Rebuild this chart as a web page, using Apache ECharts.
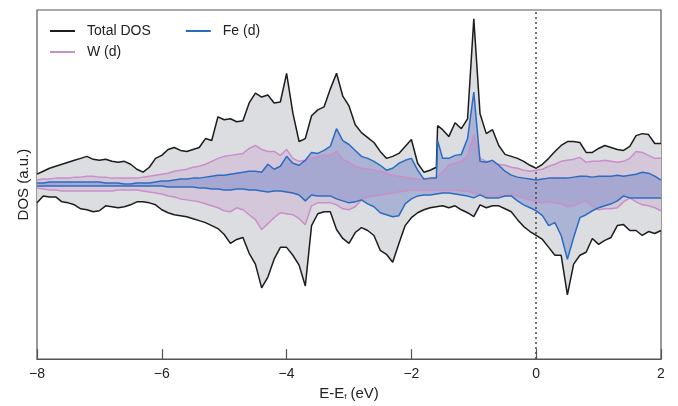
<!DOCTYPE html>
<html>
<head>
<meta charset="utf-8">
<title>DOS</title>
<script src="https://cdn.jsdelivr.net/npm/echarts@6/dist/echarts.min.js"></script>
<style>
  html, body { margin: 0; padding: 0; background: #fff; }
  #dosChart { width: 678px; height: 406px; }
</style>
</head>
<body>
<div id="dosChart"></div>
<script>
// energy grid (eV), one extra point at the -1.6 eV step
const energy = [
  -8.0, -7.9, -7.8, -7.7, -7.6, -7.5, -7.4, -7.3, -7.2, -7.1,
  -7.0, -6.9, -6.8, -6.7, -6.6, -6.5, -6.4, -6.3, -6.2, -6.1,
  -6.0, -5.9, -5.8, -5.7, -5.6, -5.5, -5.4, -5.3, -5.2, -5.1,
  -5.0, -4.9, -4.8, -4.7, -4.6, -4.5, -4.4, -4.3, -4.2, -4.1,
  -4.0, -3.9, -3.8, -3.7, -3.6, -3.5, -3.4, -3.3, -3.2, -3.1,
  -3.0, -2.9, -2.8, -2.7, -2.6, -2.5, -2.4, -2.3, -2.2, -2.1,
  -2.0, -1.9, -1.8, -1.7, -1.6, -1.58, -1.5, -1.4, -1.3, -1.2, -1.1,
  -1.0, -0.9, -0.8, -0.7, -0.6, -0.5, -0.4, -0.3, -0.2, -0.1,
  0.0, 0.1, 0.2, 0.3, 0.4, 0.5, 0.6, 0.7, 0.8, 0.9,
  1.0, 1.1, 1.2, 1.3, 1.4, 1.5, 1.6, 1.7, 1.8, 1.9, 2.0
]
// spin up (positive) / spin down (negative), arbitrary units
const totalUp = [
  10, 13, 16, 18, 20, 22, 24, 26, 28, 25,
  24, 25, 23, 22, 23, 20, 15, 12, 17, 26,
  29, 35, 37, 34, 33, 35, 37, 46, 44, 68,
  65, 66, 63, 64, 82, 92, 88, 90, 82, 83,
  112, 72, 43, 46, 69, 75, 78, 96, 112, 89,
  79, 60, 52, 47, 42, 33, 26, 28, 31, 38,
  45, 21, 12, 14, 17, 59, 55, 48, 62, 56, 66,
  167, 71, 51, 55, 39, 30, 28, 26, 23, 19,
  16, 20, 26, 33, 39, 43, 43, 42, 32, 32,
  36, 39, 37, 35, 34, 38, 49, 51, 50, 41, 41
]
const totalDown = [
  -19, -12, -13, -13, -18, -19, -21, -25, -26, -28,
  -27, -22, -23, -24, -23, -21, -18, -18, -19, -21,
  -26, -29, -31, -32, -33, -35, -37, -39, -42, -45,
  -51, -60, -56, -54, -70, -81, -105, -94, -76, -64,
  -64, -72, -82, -103, -42, -30, -28, -28, -46, -55,
  -60, -49, -44, -47, -52, -67, -71, -79, -60, -42,
  -34, -29, -26, -24, -23, -23, -22, -24, -22, -26, -29,
  -33, -21, -24, -22, -22, -25, -28, -36, -43, -48,
  -52, -56, -64, -72, -72, -112, -81, -72, -69, -55,
  -61, -57, -54, -42, -41, -47, -47, -52, -48, -50, -47
]
const wUp = [
  4, 5, 5, 6, 6, 6, 7, 7, 8, 8,
  7, 7, 6, 6, 6, 6, 6, 7, 8, 9,
  10, 11, 13, 14, 15, 17, 18, 20, 23, 26,
  28, 29, 30, 31, 36, 39, 35, 33, 33, 29,
  35, 26, 23, 24, 26, 28, 29, 29, 33, 25,
  22, 18, 16, 15, 14, 13, 11, 9, 8, 7,
  6, 5, 4, 5, 7, 9, 12, 19, 21, 23, 28,
  50, 26, 23, 21, 20, 19, 17, 16, 14, 13,
  14, 15, 18, 20, 23, 24, 25, 27, 22, 23,
  23, 24, 23, 22, 23, 26, 33, 32, 29, 26, 26
]
const wDown = [
  -4, -5, -6, -6, -7, -7, -7, -7, -7, -7,
  -7, -7, -7, -6, -6, -6, -6, -7, -8, -9,
  -10, -12, -13, -15, -16, -17, -18, -20, -22, -24,
  -27, -28, -24, -26, -31, -36, -46, -40, -34, -29,
  -30, -31, -35, -41, -22, -19, -19, -19, -21, -25,
  -26, -23, -16, -13, -12, -11, -10, -9, -8, -7,
  -6, -6, -6, -6, -6, -6, -6, -6, -6, -7, -7,
  -9, -11, -12, -12, -12, -12, -11, -12, -14, -16,
  -18, -19, -18, -19, -20, -23, -22, -19, -17, -22,
  -26, -25, -25, -24, -18, -14, -18, -21, -22, -24, -27
]
const feUp = [
  1, 1, 2, 2, 2, 2, 2, 2, 2, 2,
  2, 1, 1, 1, 0, 0, 1, 1, 1, 2,
  3, 3, 4, 5, 5, 6, 6, 7, 8, 9,
  9, 10, 11, 12, 13, 13, 12, 20, 15, 18,
  28, 21, 19, 24, 32, 31, 34, 38, 56, 44,
  40, 34, 28, 26, 23, 19, 14, 16, 21, 24,
  26, 14, 5, 6, 6, 44, 26, 26, 29, 30, 46,
  93, 23, 22, 24, 19, 13, 9, 7, 6, 5,
  4, 5, 6, 6, 6, 6, 7, 8, 8, 7,
  8, 8, 8, 9, 8, 9, 10, 12, 11, 8, 4
]
const feDown = [
  -2, -2, -2, -2, -2, -2, -2, -2, -2, -2,
  -2, -2, -2, -2, -2, -2, -2, -2, -2, -2,
  -2, -3, -3, -3, -3, -3, -4, -4, -5, -5,
  -6, -6, -5, -5, -6, -6, -7, -8, -7, -7,
  -8, -9, -11, -17, -11, -12, -12, -12, -15, -17,
  -19, -18, -16, -20, -23, -29, -31, -33, -32, -20,
  -15, -12, -11, -11, -10, -10, -9, -9, -10, -11, -12,
  -14, -11, -14, -14, -14, -12, -12, -17, -21, -24,
  -27, -32, -42, -39, -52, -76, -54, -34, -31, -27,
  -24, -22, -20, -17, -12, -14, -14, -14, -14, -14, -14
]
const xTicks = { min: -8, max: 2, interval: 2 }

const pair = (arr) => energy.map((e, i) => [e, arr[i]])
const fontFamily = "'Liberation Sans', Arial, sans-serif"

const lineSeries = (name, data, color, fill) => ({
  name: name,
  type: 'line',
  data: pair(data),
  symbol: 'none',
  showSymbol: false,
  lineStyle: { color: color, width: 1.5 },
  itemStyle: { color: color },
  areaStyle: { color: fill, opacity: 1 },
})

// legend keys are plain short lines
const legendBase = {
  left: 45,
  icon: 'rect',
  itemWidth: 25,
  itemHeight: 2,
  itemGap: 35,
  itemStyle: { borderWidth: 0 },
  textStyle: { fontSize: 14, color: '#222', fontFamily: fontFamily, padding: [0, 0, 0, 7] },
}

const option = {
  animation: false,
  backgroundColor: '#fff',
  textStyle: { fontFamily: fontFamily },
  grid: {
    left: 37,
    right: 17,
    top: 10,
    bottom: 43,
    show: true,
    borderColor: '#555',
    borderWidth: 1.2,
    backgroundColor: 'transparent',
  },
  legend: [
    Object.assign({}, legendBase, { top: 19, data: ['Total DOS', 'Fe (d)'] }),
    Object.assign({}, legendBase, { top: 40, data: ['W (d)'] }),
  ],
  xAxis: {
    type: 'value',
    min: xTicks.min,
    max: xTicks.max,
    interval: xTicks.interval,
    name: 'E-E{sub|f} (eV)',
    nameLocation: 'middle',
    nameGap: 26,
    nameTextStyle: {
      fontSize: 15,
      color: '#222',
      rich: {
        sub: { fontSize: 8, color: '#222', verticalAlign: 'bottom', padding: [6, 0, 0, 0] },
      },
    },
    axisLine: { show: true, onZero: false, lineStyle: { color: '#555', width: 1.2 } },
    axisTick: { show: true, inside: true, length: 10, lineStyle: { color: '#555', width: 1.2 } },
    axisLabel: {
      fontSize: 14,
      color: '#222',
      margin: 8,
      formatter: (v) => String(v).replace('-', '\u2212'),
    },
    splitLine: { show: false },
  },
  yAxis: {
    type: 'value',
    min: -177,
    max: 176,
    name: 'DOS (a.u.)',
    nameLocation: 'middle',
    nameGap: 6,
    nameTextStyle: { fontSize: 15, color: '#222' },
    axisLine: { show: false },
    axisTick: { show: false },
    axisLabel: { show: false },
    splitLine: { show: false },
  },
  series: [
    Object.assign(lineSeries('Total DOS', totalUp, '#1c1c1c', '#dcdde0'), {
      markLine: {
        silent: true,
        symbol: ['none', 'none'],
        label: { show: false },
        lineStyle: { color: '#444', type: [2, 3], width: 1.5 },
        data: [{ xAxis: 0 }],
      },
    }),
    lineSeries('Total DOS', totalDown, '#1c1c1c', '#dcdde0'),
    lineSeries('W (d)', wUp, '#c88fc8', 'rgba(200,150,205,0.3)'),
    lineSeries('W (d)', wDown, '#c88fc8', 'rgba(200,150,205,0.3)'),
    lineSeries('Fe (d)', feUp, '#2c6cc0', 'rgba(110,130,200,0.45)'),
    lineSeries('Fe (d)', feDown, '#2c6cc0', 'rgba(110,130,200,0.45)'),
  ],
}

const myChart = echarts.init(document.getElementById('dosChart'))
myChart.setOption(option)
</script>
</body>
</html>
